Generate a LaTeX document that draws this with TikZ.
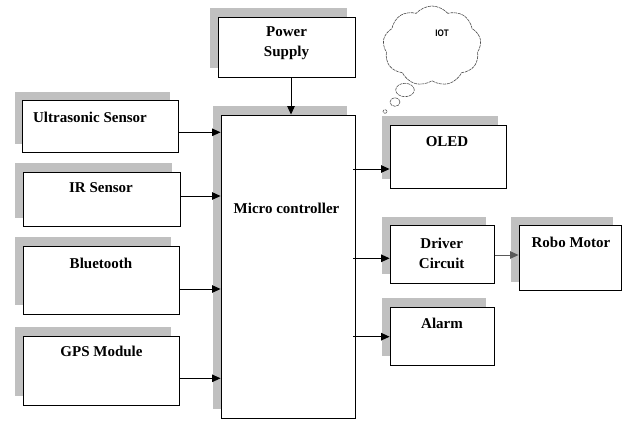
\documentclass[tikz,border=0pt]{standalone}
\usepackage{fontspec}
\setmainfont{Liberation Serif}
\newfontfamily\cloudfont{Liberation Sans}
\usetikzlibrary{shadows,shapes.symbols,shapes.geometric,arrows.meta}
\definecolor{shgray}{HTML}{C0C0C0}
\tikzset{
  blk/.style={draw=black,line width=0.9pt,fill=white,inner sep=0pt,
    drop shadow={shadow xshift=-8pt,shadow yshift=9pt,fill=shgray,opacity=1}},
  lbl/.style={font=\bfseries\fontsize{15}{20}\selectfont,align=center,inner sep=0pt,anchor=center},
  arr/.style={line width=1pt,-{Triangle[length=8.5pt,width=7.5pt]}},
  thought/.style={draw=black!70,line width=0.6pt,dash pattern=on 3pt off 0.8pt},
}
\begin{document}
\begin{tikzpicture}[x=1pt,y=-1pt]
\useasboundingbox (0,0) rectangle (623,420);
% boxes
\node[blk,minimum width=136.7pt,minimum height=60pt] (ps) at (286.7,47.3) {};
\node[blk,minimum width=155.3pt,minimum height=52pt] (us) at (100.3,126.7) {};
\node[blk,minimum width=157pt,minimum height=54.4pt] (ir) at (101.5,199.5) {};
\node[blk,minimum width=156pt,minimum height=68pt] (bt) at (101,280) {};
\node[blk,minimum width=156pt,minimum height=69pt] (gps) at (101,370.5) {};
\node[blk,minimum width=134pt,minimum height=303pt] (mc) at (288,266.5) {};
\node[blk,minimum width=116pt,minimum height=63.3pt] (oled) at (448,156.7) {};
\node[blk,minimum width=104.3pt,minimum height=57.6pt] (dc) at (442.2,254.5) {};
\node[blk,minimum width=102pt,minimum height=65pt] (rm) at (570,258.2) {};
\node[blk,minimum width=104.3pt,minimum height=57.7pt] (al) at (442.2,336.2) {};
% labels
\node[lbl] (psT) at (286.5,43.3) {Power\\Supply};
\node[lbl] (usT) at (90,117.3) {Ultrasonic Sensor};
\node[lbl] (irT) at (101,187.5) {IR Sensor};
\node[lbl] (btT) at (101,263.3) {Bluetooth};
\node[lbl] (gpsT) at (101.5,351.7) {GPS Module};
\node[lbl] (mcT) at (286.5,208) {Micro controller};
\node[lbl] (oledT) at (447,141.7) {OLED};
\node[lbl] (dcT) at (441.7,253) {Driver\\Circuit};
\node[lbl] (rmT) at (571,242.7) {Robo Motor};
\node[lbl] (alT) at (442,323.3) {Alarm};
% connectors
\draw[arr] (ps.south -| 291,0) -- (mc.north -| 291,0);
\draw[arr] (us.east |- 0,132.3) -- (mc.west |- 0,132.3);
\draw[arr] (ir.east |- 0,196) -- (mc.west |- 0,196);
\draw[arr] (bt.east |- 0,289) -- (mc.west |- 0,289);
\draw[arr] (gps.east |- 0,378.3) -- (mc.west |- 0,378.3);
\draw[arr] ([xshift=-2pt]mc.east |- 0,169) -- (oled.west |- 0,169);
\draw[arr] ([xshift=-2pt]mc.east |- 0,258.3) -- (dc.west |- 0,258.3);
\draw[arr] ([xshift=-2pt]mc.east |- 0,336.7) -- (al.west |- 0,336.7);
\draw[arr,draw=black!65,fill=black!65] (dc.east |- 0,255) -- (rm.west |- 0,255);
% thought cloud
\node[cloud,thought,cloud puffs=9,cloud puff arc=100,aspect=1.25,minimum width=98pt,minimum height=80pt,inner sep=0pt] (cl) at (432,46) {};
\node[font=\cloudfont\bfseries\fontsize{9.5}{11}\selectfont,inner sep=0pt,xscale=0.85] (clT) at (442,33) {IOT};
\node[ellipse,thought,minimum width=18.6pt,minimum height=13.4pt,inner sep=0pt] (b1) at (405,90) {};
\node[ellipse,thought,minimum width=10pt,minimum height=8.6pt,inner sep=0pt] (b2) at (395,102) {};
\node[ellipse,thought,minimum width=4pt,minimum height=3.5pt,inner sep=0pt] (b3) at (385,111.5) {};
\end{tikzpicture}
\end{document}
